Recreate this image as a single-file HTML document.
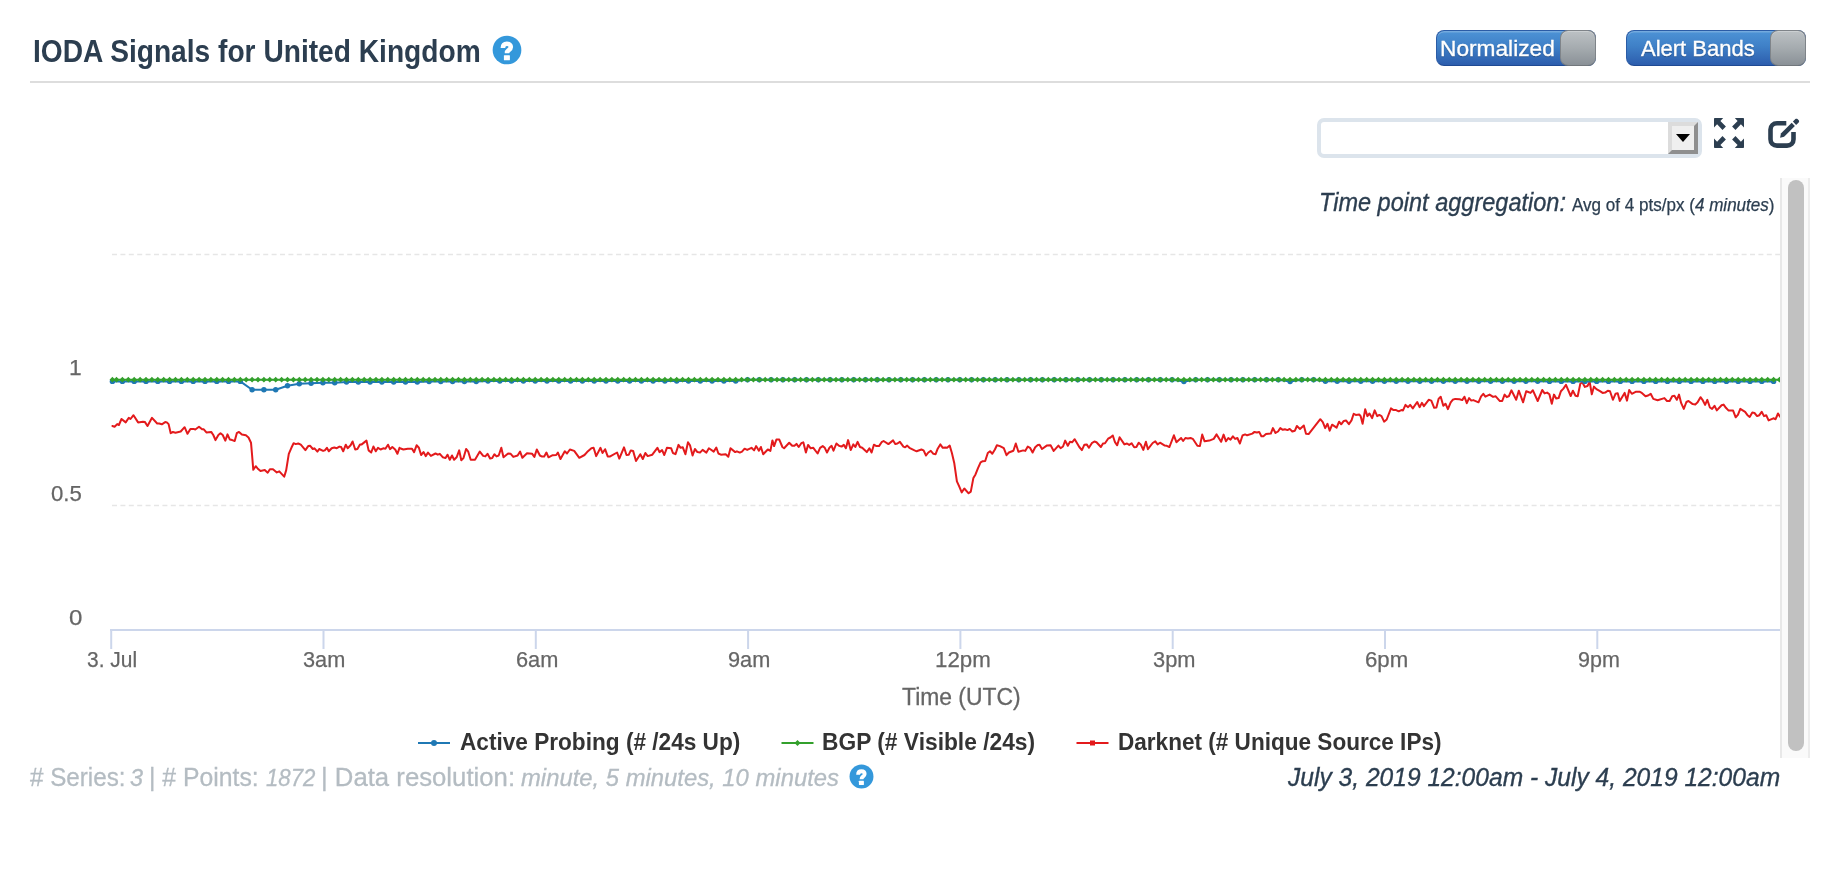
<!DOCTYPE html>
<html><head><meta charset="utf-8"><title>IODA Signals</title>
<style>
html,body{margin:0;padding:0;background:#fff;}
body{width:1840px;height:874px;position:relative;overflow:hidden;font-family:"Liberation Sans",sans-serif;color:#2c3e50;}
.abs{position:absolute;white-space:nowrap;line-height:1;}
.sx{display:inline-block;transform-origin:0 50%;}
#wrap{position:absolute;left:0;top:0;width:1840px;height:874px;will-change:transform;}
#hr{left:30px;top:81px;width:1780px;height:2px;background:#dddddd;}
.tog{height:36px;top:30px;border-radius:8px;box-sizing:border-box;border:1px solid #2b5ca6;border-bottom-color:#1f4a93;background:linear-gradient(#4d93d6,#3f80c7 45%,#2c5dad);box-shadow:inset 0 1.500px 0 rgba(255,255,255,.22);}
.knob{top:30px;width:36px;height:36px;box-sizing:border-box;border:1.500px solid #7f8489;border-bottom-color:#72777c;border-radius:8px;background:linear-gradient(#bcc1c4,#a5abaf 50%,#8a9197);box-shadow:inset 0 1px 0 rgba(255,255,255,.25);}
.wt{color:#fff;text-shadow:0 1px 1px rgba(0,0,0,.35);}
#sel{left:1317px;top:118px;width:385px;height:40px;box-sizing:border-box;border:4px solid #dce4ec;border-radius:7px;background:#fff;}
#selbtn{left:1668px;top:122px;width:30px;height:32px;box-sizing:border-box;border-style:solid;border-width:4px;border-color:#dcdcdc #8f8f8f #8f8f8f #dcdcdc;background:#efefef;}
#selbtn:after{content:"";position:absolute;left:4px;top:8px;border-left:7px solid transparent;border-right:7px solid transparent;border-top:8px solid #000;}
.ax{color:#666;}
.leg{font-weight:bold;color:#333;}
</style></head><body><div id="wrap">

<div class="abs" style="left:32.9px;top:35.9px;font-size:30.6px;font-weight:bold;color:#2c3e50;"><span class="sx" id="t_title" style="transform:scaleX(0.9199)">IODA Signals for United Kingdom</span></div>
<svg class="abs" style="left:492.100px;top:34.800px" width="30" height="30" viewBox="0 0 30 30"><circle cx="15" cy="15" r="14.350" fill="#3498db"/><path d="M10.900 12.900C10.900 10.100 12.600 8.700 14.900 8.700C17.200 8.700 18.800 10.100 18.800 12.100C18.800 13.900 17.500 14.600 16.400 15.400C15.400 16.100 15 16.600 15 18.300" fill="none" stroke="#fff" stroke-width="4.600" stroke-linecap="butt" stroke-linejoin="round"/><rect x="11.900" y="20.200" width="6" height="5" rx="0.500" fill="#fff"/></svg>
<div id="hr" class="abs"></div>

<div class="abs tog" style="left:1436px;width:160px"></div><div class="abs knob" style="left:1560px"></div>
<div class="abs tog" style="left:1626px;width:180px"></div><div class="abs knob" style="left:1770px"></div>
<div class="abs" style="left:1440.0px;top:37.8px;font-size:22.4px;color:#fff;text-shadow:0 1px 1px rgba(0,0,0,.35);-webkit-text-stroke:0.35px #fff;"><span class="sx" id="t_norm" style="transform:scaleX(1.0136)">Normalized</span></div>
<div class="abs" style="left:1641.4px;top:37.8px;font-size:22.4px;color:#fff;text-shadow:0 1px 1px rgba(0,0,0,.35);-webkit-text-stroke:0.35px #fff;"><span class="sx" id="t_alert" style="transform:scaleX(0.9826)">Alert Bands</span></div>

<div id="sel" class="abs"></div>
<div id="selbtn" class="abs"></div>

<svg class="abs" style="left:1714px;top:118px" width="30" height="30" viewBox="0 0 30 30" fill="#2c3e50">
<path d="M0.800 0H9.200L6.400 3L11.900 8.600L8.500 11.900L3.100 6.200L0 9.400V0.800Q0 0 0.800 0Z"/>
<g transform="translate(30 0) scale(-1 1)"><path d="M0.800 0H9.200L6.400 3L11.900 8.600L8.500 11.900L3.100 6.200L0 9.400V0.800Q0 0 0.800 0Z"/></g>
<g transform="translate(0 30) scale(1 -1)"><path d="M0.800 0H9.200L6.400 3L11.900 8.600L8.500 11.900L3.100 6.200L0 9.400V0.800Q0 0 0.800 0Z"/></g>
<g transform="translate(30 30) scale(-1 -1)"><path d="M0.800 0H9.200L6.400 3L11.900 8.600L8.500 11.900L3.100 6.200L0 9.400V0.800Q0 0 0.800 0Z"/></g>
</svg>
<svg class="abs" style="left:1766px;top:116px" width="36" height="34" viewBox="0 0 36 34">
<path d="M20.300 7.300H11C7.200 7.300 4.500 10 4.500 13.500V23.200C4.500 27 7.200 29.600 11 29.600H21C24.800 29.600 27.500 27 27.500 23.200V16" fill="none" stroke="#2c3e50" stroke-width="4.600" stroke-linecap="butt"/>
<path d="M14.100 21.700L14.900 17.600L25.700 6.800L28.900 10L18.100 20.800Z" fill="#2c3e50"/>
<path d="M26.900 5.600L29.400 3.100C30 2.500 30.900 2.500 31.500 3.100L32.700 4.300C33.300 4.900 33.300 5.800 32.700 6.400L30.100 8.900Z" fill="#2c3e50"/>
</svg>

<div class="abs" style="left:1319.2px;top:189.7px;font-size:25.6px;color:#2c3e50;-webkit-text-stroke:0.35px;"><span class="sx" id="t_agg" style="transform:scaleX(0.9192)"><i>Time point aggregation:</i></span></div>
<div class="abs" style="left:1571.7px;top:196.5px;font-size:17.5px;color:#2c3e50;-webkit-text-stroke:0.25px;"><span class="sx" id="t_agg2" style="transform:scaleX(0.9744)">Avg of 4 pts/px (<i>4 minutes</i>)</span></div>

<div class="abs" style="left:1780px;top:178px;width:30px;height:580px;box-sizing:border-box;background:#fafafa;border-left:2px solid #e8e8e8;border-right:2px solid #ececec;"></div>
<div class="abs" style="left:1788px;top:180px;width:16px;height:571px;border-radius:8px;background:#c1c1c1;"></div>

<svg class="abs" style="left:0;top:0" width="1780" height="874" viewBox="0 0 1780 874">
<g stroke="#e6e6e6" stroke-width="1.500" stroke-dasharray="5 3.400" fill="none">
<path d="M112 254.600H1780M112 505.600H1780M112 380H1780"/>
</g>
<path d="M110 630H1780" stroke="#ccd6eb" stroke-width="2" fill="none"/>
<path d="M111.2 630V649M323.5 630V649M535.8 630V649M748.1 630V649M960.4 630V649M1172.7 630V649M1385.0 630V649M1597.3 630V649" stroke="#ccd6eb" stroke-width="2" fill="none"/>
<path d="M112.4 426.0 L114.6 426.7 L117.2 424.1 L118.9 425.0 L121.5 419.0 L125.7 422.4 L128.8 417.8 L130.5 419.0 L133.5 415.2 L138.1 422.4 L142.9 421.7 L145.0 422.1 L147.5 426.0 L152.0 417.8 L157.2 423.5 L159.2 423.5 L161.8 424.3 L165.2 422.1 L166.9 422.4 L168.6 424.1 L170.7 433.2 L172.9 432.0 L175.5 432.7 L180.7 431.5 L184.6 427.2 L187.5 433.8 L190.4 428.9 L193.5 428.9 L195.3 429.5 L199.0 426.7 L202.1 429.3 L203.8 429.3 L206.4 432.4 L211.2 431.9 L213.3 435.0 L215.5 440.1 L218.4 435.0 L220.5 433.2 L222.7 435.0 L225.3 440.6 L227.5 434.4 L229.9 439.6 L232.2 440.1 L234.7 441.0 L236.8 433.2 L239.0 431.9 L241.9 434.6 L245.9 435.3 L248.5 437.5 L251.0 442.7 L251.9 453.0 L253.3 469.8 L255.7 466.2 L257.6 468.4 L260.5 471.0 L264.8 470.1 L267.7 472.7 L269.9 469.3 L273.0 469.3 L276.8 472.4 L279.3 471.3 L284.2 476.7 L286.2 470.1 L288.8 453.8 L291.4 447.8 L293.6 443.2 L295.7 444.1 L298.2 443.5 L300.8 444.7 L305.4 450.1 L308.2 446.1 L310.2 445.8 L312.8 449.0 L314.5 448.3 L317.4 451.6 L319.2 449.0 L323.1 450.9 L324.8 450.4 L326.9 447.8 L328.8 451.3 L331.7 448.2 L334.3 447.5 L336.8 448.2 L339.4 446.6 L341.1 447.0 L343.2 451.3 L345.8 444.7 L347.7 448.2 L350.6 445.3 L352.6 441.5 L355.2 449.5 L357.4 449.0 L360.0 444.4 L361.7 444.4 L366.5 440.6 L368.6 450.4 L371.2 452.5 L373.4 446.5 L375.8 451.3 L378.0 447.8 L380.6 449.5 L383.2 448.3 L385.4 448.7 L388.0 444.7 L390.0 449.2 L392.3 447.0 L395.2 449.5 L397.4 453.8 L399.5 447.8 L400.0 448.2 L403.4 449.5 L407.7 448.7 L412.0 448.7 L414.1 452.1 L416.6 445.3 L418.9 447.8 L421.1 455.0 L423.5 452.1 L425.7 456.1 L428.0 452.6 L430.9 455.9 L435.5 453.5 L437.8 454.7 L439.8 453.8 L442.9 457.3 L445.5 458.1 L447.5 454.7 L449.8 459.8 L452.0 455.5 L454.1 459.8 L456.6 457.3 L459.2 450.4 L461.3 460.2 L463.5 458.1 L466.1 449.0 L468.1 451.3 L470.7 459.8 L475.0 459.8 L479.8 451.6 L483.2 455.9 L485.3 456.4 L487.5 453.8 L490.1 458.6 L492.2 458.1 L494.4 454.3 L496.5 456.4 L498.7 455.5 L501.3 447.8 L503.5 457.3 L508.1 453.5 L510.7 453.8 L513.3 456.9 L517.6 455.5 L520.1 451.6 L522.4 457.8 L527.0 453.3 L532.2 453.8 L534.4 456.9 L536.8 449.5 L539.9 455.5 L541.6 456.4 L544.2 456.4 L546.4 452.5 L548.5 457.3 L552.7 455.2 L556.2 455.0 L557.9 452.6 L560.5 459.0 L564.8 451.3 L567.0 453.5 L569.9 449.5 L574.2 450.9 L579.3 457.8 L584.5 455.0 L587.1 452.1 L591.4 448.2 L593.6 447.8 L596.2 456.1 L600.5 447.8 L602.5 453.0 L605.1 449.2 L607.7 456.4 L610.2 456.4 L617.1 452.5 L619.3 458.6 L624.0 447.3 L626.5 455.0 L628.8 454.7 L630.8 450.4 L633.1 450.9 L636.0 461.0 L640.3 454.2 L642.8 459.0 L645.4 453.0 L647.7 456.1 L652.3 454.7 L657.4 447.8 L659.5 452.1 L662.1 450.1 L664.3 455.0 L666.9 447.8 L671.2 448.3 L672.9 453.0 L675.5 454.2 L678.5 444.9 L680.6 447.8 L682.8 447.3 L685.4 454.2 L688.0 442.3 L690.0 445.3 L692.6 455.5 L694.9 449.0 L697.4 452.1 L700.0 452.6 L702.6 449.9 L706.4 452.6 L708.9 448.3 L713.7 451.6 L716.3 447.5 L718.4 453.5 L720.9 454.7 L725.7 454.3 L728.3 456.8 L730.5 448.3 L735.2 452.1 L736.9 451.3 L739.8 452.6 L742.0 451.6 L744.6 448.7 L747.2 449.9 L751.5 447.8 L754.1 450.4 L756.1 446.1 L758.9 450.7 L760.9 447.0 L763.2 454.2 L767.8 449.5 L770.4 450.9 L772.4 440.4 L774.1 446.1 L776.4 439.6 L779.3 439.6 L782.4 447.0 L784.1 448.2 L789.2 442.7 L792.2 445.8 L794.4 445.8 L796.5 443.9 L798.7 447.0 L801.3 443.2 L803.3 442.3 L805.9 452.5 L808.1 444.9 L810.7 448.3 L813.3 447.8 L817.6 453.5 L820.1 447.8 L822.7 446.1 L824.8 447.8 L827.0 452.5 L829.6 447.5 L831.6 445.8 L833.5 450.7 L836.4 443.5 L839.0 445.8 L841.6 446.6 L843.8 444.9 L845.9 448.2 L848.1 440.1 L850.7 450.1 L853.3 444.4 L855.3 447.0 L857.6 441.8 L860.0 447.0 L862.2 447.8 L866.8 452.1 L869.4 448.3 L871.6 452.5 L873.9 444.7 L876.4 446.1 L879.0 446.1 L881.6 442.2 L883.6 441.0 L888.4 444.1 L893.1 440.4 L895.3 444.1 L897.4 443.5 L899.9 441.8 L903.4 446.6 L905.1 447.3 L907.2 445.6 L909.4 447.8 L914.5 450.4 L916.6 451.3 L921.4 449.5 L923.6 450.4 L926.0 455.5 L928.3 452.5 L930.8 450.9 L933.4 453.8 L935.6 454.2 L937.7 448.7 L940.3 444.4 L942.8 447.8 L945.4 447.5 L947.1 447.8 L949.7 445.6 L951.9 453.0 L954.3 463.3 L956.9 481.3 L959.2 486.4 L961.7 492.4 L964.3 488.5 L968.6 493.3 L970.8 491.6 L973.4 477.9 L975.5 474.4 L978.0 468.1 L980.6 462.4 L982.8 461.2 L985.2 461.0 L987.8 453.0 L990.0 451.3 L992.3 453.8 L994.9 449.5 L996.9 445.3 L1000.0 446.1 L1003.8 448.2 L1006.5 455.2 L1008.9 452.5 L1013.4 450.7 L1015.8 443.5 L1018.4 451.8 L1023.2 450.4 L1025.2 450.9 L1027.8 446.6 L1030.0 447.8 L1032.6 452.5 L1035.2 447.3 L1037.8 444.9 L1039.5 444.7 L1042.0 449.0 L1046.7 445.6 L1050.6 445.3 L1053.7 450.9 L1058.4 445.6 L1060.6 448.2 L1063.0 446.5 L1065.2 440.6 L1067.8 445.8 L1070.0 441.8 L1072.1 442.3 L1074.7 439.2 L1079.3 447.0 L1081.9 450.1 L1084.4 444.7 L1086.7 444.4 L1088.9 447.8 L1091.8 443.2 L1094.4 441.5 L1096.5 442.2 L1100.9 447.0 L1103.0 443.5 L1105.0 443.2 L1108.1 438.7 L1110.4 437.5 L1112.8 435.5 L1115.0 442.2 L1117.2 445.3 L1119.6 437.2 L1124.4 444.4 L1127.0 443.5 L1129.2 444.9 L1131.6 443.2 L1134.2 447.3 L1136.4 447.0 L1138.7 442.7 L1140.7 444.4 L1143.3 449.9 L1145.9 441.8 L1147.9 449.2 L1152.7 443.0 L1155.3 441.3 L1157.6 444.4 L1160.0 442.7 L1164.8 445.6 L1166.8 445.8 L1169.4 447.0 L1173.9 435.3 L1176.4 442.2 L1181.1 438.0 L1183.1 441.0 L1185.4 438.0 L1187.9 438.4 L1190.5 437.9 L1193.1 439.2 L1197.4 445.8 L1199.9 446.1 L1202.2 434.6 L1204.6 441.3 L1209.4 440.6 L1213.7 438.9 L1216.6 434.4 L1221.1 441.8 L1223.6 434.6 L1226.0 441.3 L1228.3 438.0 L1230.5 439.6 L1232.9 436.3 L1235.1 438.9 L1237.4 438.0 L1239.9 443.5 L1242.5 435.5 L1245.1 434.4 L1247.1 435.3 L1252.3 433.6 L1254.5 431.9 L1256.9 432.4 L1259.2 431.9 L1261.4 436.3 L1263.4 436.3 L1266.0 434.1 L1270.8 433.6 L1272.9 428.1 L1275.5 432.9 L1278.0 431.5 L1280.3 428.1 L1282.8 429.8 L1284.9 429.3 L1287.5 430.1 L1289.7 428.9 L1292.3 431.5 L1294.9 430.7 L1296.9 426.0 L1300.0 428.9 L1303.8 425.5 L1306.0 433.8 L1308.6 434.1 L1320.3 419.2 L1322.8 422.1 L1325.2 428.1 L1327.5 423.8 L1329.7 430.7 L1332.1 424.7 L1336.6 427.7 L1339.1 421.7 L1341.2 424.3 L1343.8 420.9 L1346.0 420.4 L1348.9 424.1 L1351.5 420.4 L1353.7 413.8 L1355.8 414.9 L1359.2 414.4 L1360.6 416.1 L1362.6 423.8 L1365.2 409.2 L1367.4 416.1 L1369.5 413.5 L1372.1 418.1 L1374.7 410.4 L1377.2 416.1 L1379.3 414.9 L1381.5 416.1 L1384.1 421.7 L1386.7 419.5 L1391.0 408.4 L1393.5 410.1 L1396.1 410.1 L1398.7 411.3 L1401.3 410.1 L1403.0 410.4 L1405.5 404.9 L1408.1 407.2 L1410.2 404.9 L1412.8 408.4 L1417.2 402.0 L1419.6 407.2 L1421.9 402.9 L1423.9 406.1 L1428.7 399.8 L1431.3 400.6 L1434.2 407.8 L1436.4 407.5 L1438.7 398.6 L1440.7 396.7 L1443.3 405.8 L1445.5 403.7 L1447.9 409.2 L1450.7 402.3 L1452.7 399.8 L1455.3 398.9 L1459.6 399.3 L1462.2 400.1 L1464.4 396.7 L1466.8 403.2 L1469.1 398.1 L1471.3 400.6 L1473.3 400.1 L1478.5 402.3 L1481.1 396.3 L1483.3 393.8 L1485.4 396.7 L1489.6 394.6 L1493.1 396.9 L1495.7 396.3 L1499.9 401.1 L1502.2 401.0 L1504.6 394.6 L1506.8 397.2 L1509.0 396.0 L1511.4 390.3 L1516.2 399.8 L1518.8 390.7 L1523.1 402.3 L1526.2 391.2 L1528.3 392.0 L1530.5 392.9 L1532.9 390.3 L1537.7 401.0 L1542.3 390.0 L1544.6 393.4 L1547.1 392.6 L1549.4 394.3 L1551.8 403.7 L1554.0 394.6 L1556.2 398.6 L1558.6 398.1 L1560.9 391.2 L1563.4 388.6 L1566.0 384.8 L1570.7 396.0 L1572.9 390.7 L1575.5 395.8 L1577.7 396.3 L1580.3 383.8 L1582.3 382.3 L1584.9 386.9 L1587.5 386.0 L1589.7 381.8 L1591.8 394.3 L1594.0 386.6 L1596.4 389.1 L1600.0 391.2 L1602.6 392.9 L1605.2 392.6 L1607.8 390.7 L1610.0 391.2 L1612.9 399.8 L1615.5 393.8 L1617.7 393.2 L1619.8 401.0 L1624.6 392.9 L1627.0 400.6 L1629.2 390.0 L1631.8 393.8 L1636.1 391.7 L1639.5 391.7 L1641.3 392.6 L1645.5 396.3 L1648.1 395.5 L1650.7 393.8 L1653.3 398.9 L1657.6 400.3 L1664.4 398.1 L1667.0 401.0 L1669.6 401.1 L1672.2 396.3 L1674.4 395.8 L1676.8 399.8 L1679.0 394.6 L1681.2 403.2 L1683.8 408.9 L1686.4 402.0 L1688.5 401.0 L1692.7 404.1 L1695.3 404.4 L1697.6 402.3 L1700.5 397.2 L1702.5 399.8 L1705.1 404.9 L1707.3 399.8 L1709.9 407.5 L1712.1 408.9 L1714.5 405.8 L1716.8 410.4 L1721.6 405.3 L1723.6 404.6 L1725.9 407.8 L1728.4 410.4 L1733.1 410.6 L1735.7 417.3 L1737.9 414.9 L1740.3 408.9 L1745.1 411.8 L1747.3 414.9 L1749.7 416.9 L1752.3 412.6 L1754.5 413.0 L1757.1 416.1 L1759.3 415.2 L1761.7 411.8 L1764.0 416.1 L1766.2 415.2 L1768.6 420.4 L1773.4 418.3 L1775.6 419.2 L1778.0 413.5 L1779.9 416.6" stroke="#e31a1c" stroke-width="2" fill="none" stroke-linejoin="round" stroke-linecap="round"/>
<path d="M112.4 381.4 L122.4 381.4 L134.2 381.4 L146.0 381.4 L157.8 381.4 L169.6 381.4 L181.4 381.4 L193.2 381.4 L205.0 381.4 L216.8 381.4 L228.6 381.4 L240.3 381.4 L252.1 389.8 L263.9 389.8 L275.7 389.8 L287.5 385.7 L299.3 383.8 L311.1 383.2 L322.9 382.7 L334.7 382.7 L346.5 382.0 L358.3 382.0 L370.1 382.0 L381.9 382.0 L393.7 382.0 L405.5 382.0 L417.3 382.0 L429.1 381.6 L440.8 381.6 L452.6 381.6 L464.4 381.6 L476.2 381.6 L488.0 381.1 L499.8 381.1 L511.6 381.1 L523.4 381.1 L535.2 381.1 L547.0 381.1 L558.8 381.1 L570.6 381.1 L582.4 381.1 L594.2 381.1 L606.0 381.1 L617.8 381.1 L629.6 381.1 L641.4 381.1 L653.1 381.1 L664.9 381.1 L676.7 381.1 L688.5 381.1 L700.3 381.1 L712.1 381.1 L723.9 381.1 L735.7 381.1 L747.5 379.8 L759.3 379.8 L771.1 379.8 L782.9 379.8 L794.7 379.8 L806.5 379.8 L818.3 379.8 L830.1 379.8 L841.9 379.8 L853.7 379.8 L865.5 379.8 L877.2 379.8 L889.0 379.8 L900.8 379.8 L912.6 379.8 L924.4 379.8 L936.2 379.8 L948.0 379.8 L959.8 379.8 L971.6 379.8 L983.4 379.8 L995.2 379.8 L1007.0 379.8 L1018.8 379.8 L1030.6 379.8 L1042.4 379.8 L1054.2 379.8 L1066.0 379.8 L1077.8 379.8 L1089.5 379.8 L1101.3 379.8 L1113.1 379.8 L1124.9 379.8 L1136.7 379.8 L1148.5 379.8 L1160.3 379.8 L1172.1 379.8 L1183.9 381.6 L1195.7 379.8 L1207.5 379.8 L1219.3 379.8 L1231.1 379.8 L1242.9 379.8 L1254.7 379.8 L1266.5 379.8 L1278.3 379.8 L1290.1 381.6 L1301.8 379.8 L1313.6 379.8 L1325.4 381.3 L1337.2 381.3 L1349.0 381.3 L1360.8 381.3 L1372.6 381.3 L1384.4 381.3 L1396.2 381.3 L1408.0 381.3 L1419.8 381.3 L1431.6 381.3 L1443.4 381.3 L1455.2 381.3 L1467.0 381.3 L1478.8 381.3 L1490.6 381.3 L1502.4 381.3 L1514.1 381.3 L1525.9 381.3 L1537.7 381.3 L1549.5 381.4 L1561.3 381.4 L1573.1 381.4 L1584.9 381.4 L1596.7 381.4 L1608.5 381.4 L1620.3 381.4 L1632.1 381.4 L1643.9 381.4 L1655.7 381.4 L1667.5 381.4 L1679.3 381.4 L1691.1 381.4 L1702.9 381.4 L1714.7 381.4 L1726.4 381.4 L1738.2 381.4 L1750.0 381.4 L1761.8 381.4 L1773.6 381.4" stroke="#1f78b4" stroke-width="2" fill="none" stroke-linejoin="round"/>
<g fill="#1f78b4"><circle cx="112.4" cy="381.4" r="2.7"/><circle cx="122.4" cy="381.4" r="2.7"/><circle cx="134.2" cy="381.4" r="2.7"/><circle cx="146.0" cy="381.4" r="2.7"/><circle cx="157.8" cy="381.4" r="2.7"/><circle cx="169.6" cy="381.4" r="2.7"/><circle cx="181.4" cy="381.4" r="2.7"/><circle cx="193.2" cy="381.4" r="2.7"/><circle cx="205.0" cy="381.4" r="2.7"/><circle cx="216.8" cy="381.4" r="2.7"/><circle cx="228.6" cy="381.4" r="2.7"/><circle cx="240.3" cy="381.4" r="2.7"/><circle cx="252.1" cy="389.8" r="2.7"/><circle cx="263.9" cy="389.8" r="2.7"/><circle cx="275.7" cy="389.8" r="2.7"/><circle cx="287.5" cy="385.7" r="2.7"/><circle cx="299.3" cy="383.8" r="2.7"/><circle cx="311.1" cy="383.2" r="2.7"/><circle cx="322.9" cy="382.7" r="2.7"/><circle cx="334.7" cy="382.7" r="2.7"/><circle cx="346.5" cy="382.0" r="2.7"/><circle cx="358.3" cy="382.0" r="2.7"/><circle cx="370.1" cy="382.0" r="2.7"/><circle cx="381.9" cy="382.0" r="2.7"/><circle cx="393.7" cy="382.0" r="2.7"/><circle cx="405.5" cy="382.0" r="2.7"/><circle cx="417.3" cy="382.0" r="2.7"/><circle cx="429.1" cy="381.6" r="2.7"/><circle cx="440.8" cy="381.6" r="2.7"/><circle cx="452.6" cy="381.6" r="2.7"/><circle cx="464.4" cy="381.6" r="2.7"/><circle cx="476.2" cy="381.6" r="2.7"/><circle cx="488.0" cy="381.1" r="2.7"/><circle cx="499.8" cy="381.1" r="2.7"/><circle cx="511.6" cy="381.1" r="2.7"/><circle cx="523.4" cy="381.1" r="2.7"/><circle cx="535.2" cy="381.1" r="2.7"/><circle cx="547.0" cy="381.1" r="2.7"/><circle cx="558.8" cy="381.1" r="2.7"/><circle cx="570.6" cy="381.1" r="2.7"/><circle cx="582.4" cy="381.1" r="2.7"/><circle cx="594.2" cy="381.1" r="2.7"/><circle cx="606.0" cy="381.1" r="2.7"/><circle cx="617.8" cy="381.1" r="2.7"/><circle cx="629.6" cy="381.1" r="2.7"/><circle cx="641.4" cy="381.1" r="2.7"/><circle cx="653.1" cy="381.1" r="2.7"/><circle cx="664.9" cy="381.1" r="2.7"/><circle cx="676.7" cy="381.1" r="2.7"/><circle cx="688.5" cy="381.1" r="2.7"/><circle cx="700.3" cy="381.1" r="2.7"/><circle cx="712.1" cy="381.1" r="2.7"/><circle cx="723.9" cy="381.1" r="2.7"/><circle cx="735.7" cy="381.1" r="2.7"/><circle cx="747.5" cy="379.8" r="2.7"/><circle cx="759.3" cy="379.8" r="2.7"/><circle cx="771.1" cy="379.8" r="2.7"/><circle cx="782.9" cy="379.8" r="2.7"/><circle cx="794.7" cy="379.8" r="2.7"/><circle cx="806.5" cy="379.8" r="2.7"/><circle cx="818.3" cy="379.8" r="2.7"/><circle cx="830.1" cy="379.8" r="2.7"/><circle cx="841.9" cy="379.8" r="2.7"/><circle cx="853.7" cy="379.8" r="2.7"/><circle cx="865.5" cy="379.8" r="2.7"/><circle cx="877.2" cy="379.8" r="2.7"/><circle cx="889.0" cy="379.8" r="2.7"/><circle cx="900.8" cy="379.8" r="2.7"/><circle cx="912.6" cy="379.8" r="2.7"/><circle cx="924.4" cy="379.8" r="2.7"/><circle cx="936.2" cy="379.8" r="2.7"/><circle cx="948.0" cy="379.8" r="2.7"/><circle cx="959.8" cy="379.8" r="2.7"/><circle cx="971.6" cy="379.8" r="2.7"/><circle cx="983.4" cy="379.8" r="2.7"/><circle cx="995.2" cy="379.8" r="2.7"/><circle cx="1007.0" cy="379.8" r="2.7"/><circle cx="1018.8" cy="379.8" r="2.7"/><circle cx="1030.6" cy="379.8" r="2.7"/><circle cx="1042.4" cy="379.8" r="2.7"/><circle cx="1054.2" cy="379.8" r="2.7"/><circle cx="1066.0" cy="379.8" r="2.7"/><circle cx="1077.8" cy="379.8" r="2.7"/><circle cx="1089.5" cy="379.8" r="2.7"/><circle cx="1101.3" cy="379.8" r="2.7"/><circle cx="1113.1" cy="379.8" r="2.7"/><circle cx="1124.9" cy="379.8" r="2.7"/><circle cx="1136.7" cy="379.8" r="2.7"/><circle cx="1148.5" cy="379.8" r="2.7"/><circle cx="1160.3" cy="379.8" r="2.7"/><circle cx="1172.1" cy="379.8" r="2.7"/><circle cx="1183.9" cy="381.6" r="2.7"/><circle cx="1195.7" cy="379.8" r="2.7"/><circle cx="1207.5" cy="379.8" r="2.7"/><circle cx="1219.3" cy="379.8" r="2.7"/><circle cx="1231.1" cy="379.8" r="2.7"/><circle cx="1242.9" cy="379.8" r="2.7"/><circle cx="1254.7" cy="379.8" r="2.7"/><circle cx="1266.5" cy="379.8" r="2.7"/><circle cx="1278.3" cy="379.8" r="2.7"/><circle cx="1290.1" cy="381.6" r="2.7"/><circle cx="1301.8" cy="379.8" r="2.7"/><circle cx="1313.6" cy="379.8" r="2.7"/><circle cx="1325.4" cy="381.3" r="2.7"/><circle cx="1337.2" cy="381.3" r="2.7"/><circle cx="1349.0" cy="381.3" r="2.7"/><circle cx="1360.8" cy="381.3" r="2.7"/><circle cx="1372.6" cy="381.3" r="2.7"/><circle cx="1384.4" cy="381.3" r="2.7"/><circle cx="1396.2" cy="381.3" r="2.7"/><circle cx="1408.0" cy="381.3" r="2.7"/><circle cx="1419.8" cy="381.3" r="2.7"/><circle cx="1431.6" cy="381.3" r="2.7"/><circle cx="1443.4" cy="381.3" r="2.7"/><circle cx="1455.2" cy="381.3" r="2.7"/><circle cx="1467.0" cy="381.3" r="2.7"/><circle cx="1478.8" cy="381.3" r="2.7"/><circle cx="1490.6" cy="381.3" r="2.7"/><circle cx="1502.4" cy="381.3" r="2.7"/><circle cx="1514.1" cy="381.3" r="2.7"/><circle cx="1525.9" cy="381.3" r="2.7"/><circle cx="1537.7" cy="381.3" r="2.7"/><circle cx="1549.5" cy="381.4" r="2.7"/><circle cx="1561.3" cy="381.4" r="2.7"/><circle cx="1573.1" cy="381.4" r="2.7"/><circle cx="1584.9" cy="381.4" r="2.7"/><circle cx="1596.7" cy="381.4" r="2.7"/><circle cx="1608.5" cy="381.4" r="2.7"/><circle cx="1620.3" cy="381.4" r="2.7"/><circle cx="1632.1" cy="381.4" r="2.7"/><circle cx="1643.9" cy="381.4" r="2.7"/><circle cx="1655.7" cy="381.4" r="2.7"/><circle cx="1667.5" cy="381.4" r="2.7"/><circle cx="1679.3" cy="381.4" r="2.7"/><circle cx="1691.1" cy="381.4" r="2.7"/><circle cx="1702.9" cy="381.4" r="2.7"/><circle cx="1714.7" cy="381.4" r="2.7"/><circle cx="1726.4" cy="381.4" r="2.7"/><circle cx="1738.2" cy="381.4" r="2.7"/><circle cx="1750.0" cy="381.4" r="2.7"/><circle cx="1761.8" cy="381.4" r="2.7"/><circle cx="1773.6" cy="381.4" r="2.7"/></g>
<path d="M112.400 379.7H1780" stroke="#33a02c" stroke-width="2.100" fill="none"/>
<path d="M112.4 376.85l2.85 2.85l-2.85 2.85l-2.85 -2.85zM116.5 376.85l2.85 2.85l-2.85 2.85l-2.85 -2.85zM122.4 376.85l2.85 2.85l-2.85 2.85l-2.85 -2.85zM128.3 376.85l2.85 2.85l-2.85 2.85l-2.85 -2.85zM134.2 376.85l2.85 2.85l-2.85 2.85l-2.85 -2.85zM140.1 376.85l2.85 2.85l-2.85 2.85l-2.85 -2.85zM146.0 376.85l2.85 2.85l-2.85 2.85l-2.85 -2.85zM151.9 376.85l2.85 2.85l-2.85 2.85l-2.85 -2.85zM157.8 376.85l2.85 2.85l-2.85 2.85l-2.85 -2.85zM163.7 376.85l2.85 2.85l-2.85 2.85l-2.85 -2.85zM169.6 376.85l2.85 2.85l-2.85 2.85l-2.85 -2.85zM175.5 376.85l2.85 2.85l-2.85 2.85l-2.85 -2.85zM181.4 376.85l2.85 2.85l-2.85 2.85l-2.85 -2.85zM187.3 376.85l2.85 2.85l-2.85 2.85l-2.85 -2.85zM193.2 376.85l2.85 2.85l-2.85 2.85l-2.85 -2.85zM199.1 376.85l2.85 2.85l-2.85 2.85l-2.85 -2.85zM205.0 376.85l2.85 2.85l-2.85 2.85l-2.85 -2.85zM210.9 376.85l2.85 2.85l-2.85 2.85l-2.85 -2.85zM216.8 376.85l2.85 2.85l-2.85 2.85l-2.85 -2.85zM222.6 376.85l2.85 2.85l-2.85 2.85l-2.85 -2.85zM228.5 376.85l2.85 2.85l-2.85 2.85l-2.85 -2.85zM234.4 376.85l2.85 2.85l-2.85 2.85l-2.85 -2.85zM240.3 376.85l2.85 2.85l-2.85 2.85l-2.85 -2.85zM246.2 376.85l2.85 2.85l-2.85 2.85l-2.85 -2.85zM252.1 376.85l2.85 2.85l-2.85 2.85l-2.85 -2.85zM258.0 376.85l2.85 2.85l-2.85 2.85l-2.85 -2.85zM263.9 376.85l2.85 2.85l-2.85 2.85l-2.85 -2.85zM269.8 376.85l2.85 2.85l-2.85 2.85l-2.85 -2.85zM275.7 376.85l2.85 2.85l-2.85 2.85l-2.85 -2.85zM281.6 376.85l2.85 2.85l-2.85 2.85l-2.85 -2.85zM287.5 376.85l2.85 2.85l-2.85 2.85l-2.85 -2.85zM293.4 376.85l2.85 2.85l-2.85 2.85l-2.85 -2.85zM299.3 376.85l2.85 2.85l-2.85 2.85l-2.85 -2.85zM305.2 376.85l2.85 2.85l-2.85 2.85l-2.85 -2.85zM311.1 376.85l2.85 2.85l-2.85 2.85l-2.85 -2.85zM317.0 376.85l2.85 2.85l-2.85 2.85l-2.85 -2.85zM322.9 376.85l2.85 2.85l-2.85 2.85l-2.85 -2.85zM328.8 376.85l2.85 2.85l-2.85 2.85l-2.85 -2.85zM334.7 376.85l2.85 2.85l-2.85 2.85l-2.85 -2.85zM340.6 376.85l2.85 2.85l-2.85 2.85l-2.85 -2.85zM346.5 376.85l2.85 2.85l-2.85 2.85l-2.85 -2.85zM352.4 376.85l2.85 2.85l-2.85 2.85l-2.85 -2.85zM358.3 376.85l2.85 2.85l-2.85 2.85l-2.85 -2.85zM364.2 376.85l2.85 2.85l-2.85 2.85l-2.85 -2.85zM370.1 376.85l2.85 2.85l-2.85 2.85l-2.85 -2.85zM376.0 376.85l2.85 2.85l-2.85 2.85l-2.85 -2.85zM381.9 376.85l2.85 2.85l-2.85 2.85l-2.85 -2.85zM387.8 376.85l2.85 2.85l-2.85 2.85l-2.85 -2.85zM393.7 376.85l2.85 2.85l-2.85 2.85l-2.85 -2.85zM399.6 376.85l2.85 2.85l-2.85 2.85l-2.85 -2.85zM405.5 376.85l2.85 2.85l-2.85 2.85l-2.85 -2.85zM411.4 376.85l2.85 2.85l-2.85 2.85l-2.85 -2.85zM417.3 376.85l2.85 2.85l-2.85 2.85l-2.85 -2.85zM423.2 376.85l2.85 2.85l-2.85 2.85l-2.85 -2.85zM429.1 376.85l2.85 2.85l-2.85 2.85l-2.85 -2.85zM435.0 376.85l2.85 2.85l-2.85 2.85l-2.85 -2.85zM440.8 376.85l2.85 2.85l-2.85 2.85l-2.85 -2.85zM446.7 376.85l2.85 2.85l-2.85 2.85l-2.85 -2.85zM452.6 376.85l2.85 2.85l-2.85 2.85l-2.85 -2.85zM458.5 376.85l2.85 2.85l-2.85 2.85l-2.85 -2.85zM464.4 376.85l2.85 2.85l-2.85 2.85l-2.85 -2.85zM470.3 376.85l2.85 2.85l-2.85 2.85l-2.85 -2.85zM476.2 376.85l2.85 2.85l-2.85 2.85l-2.85 -2.85zM482.1 376.85l2.85 2.85l-2.85 2.85l-2.85 -2.85zM488.0 376.85l2.85 2.85l-2.85 2.85l-2.85 -2.85zM493.9 376.85l2.85 2.85l-2.85 2.85l-2.85 -2.85zM499.8 376.85l2.85 2.85l-2.85 2.85l-2.85 -2.85zM505.7 376.85l2.85 2.85l-2.85 2.85l-2.85 -2.85zM511.6 376.85l2.85 2.85l-2.85 2.85l-2.85 -2.85zM517.5 376.85l2.85 2.85l-2.85 2.85l-2.85 -2.85zM523.4 376.85l2.85 2.85l-2.85 2.85l-2.85 -2.85zM529.3 376.85l2.85 2.85l-2.85 2.85l-2.85 -2.85zM535.2 376.85l2.85 2.85l-2.85 2.85l-2.85 -2.85zM541.1 376.85l2.85 2.85l-2.85 2.85l-2.85 -2.85zM547.0 376.85l2.85 2.85l-2.85 2.85l-2.85 -2.85zM552.9 376.85l2.85 2.85l-2.85 2.85l-2.85 -2.85zM558.8 376.85l2.85 2.85l-2.85 2.85l-2.85 -2.85zM564.7 376.85l2.85 2.85l-2.85 2.85l-2.85 -2.85zM570.6 376.85l2.85 2.85l-2.85 2.85l-2.85 -2.85zM576.5 376.85l2.85 2.85l-2.85 2.85l-2.85 -2.85zM582.4 376.85l2.85 2.85l-2.85 2.85l-2.85 -2.85zM588.3 376.85l2.85 2.85l-2.85 2.85l-2.85 -2.85zM594.2 376.85l2.85 2.85l-2.85 2.85l-2.85 -2.85zM600.1 376.85l2.85 2.85l-2.85 2.85l-2.85 -2.85zM606.0 376.85l2.85 2.85l-2.85 2.85l-2.85 -2.85zM611.9 376.85l2.85 2.85l-2.85 2.85l-2.85 -2.85zM617.8 376.85l2.85 2.85l-2.85 2.85l-2.85 -2.85zM623.7 376.85l2.85 2.85l-2.85 2.85l-2.85 -2.85zM629.6 376.85l2.85 2.85l-2.85 2.85l-2.85 -2.85zM635.5 376.85l2.85 2.85l-2.85 2.85l-2.85 -2.85zM641.4 376.85l2.85 2.85l-2.85 2.85l-2.85 -2.85zM647.3 376.85l2.85 2.85l-2.85 2.85l-2.85 -2.85zM653.1 376.85l2.85 2.85l-2.85 2.85l-2.85 -2.85zM659.0 376.85l2.85 2.85l-2.85 2.85l-2.85 -2.85zM664.9 376.85l2.85 2.85l-2.85 2.85l-2.85 -2.85zM670.8 376.85l2.85 2.85l-2.85 2.85l-2.85 -2.85zM676.7 376.85l2.85 2.85l-2.85 2.85l-2.85 -2.85zM682.6 376.85l2.85 2.85l-2.85 2.85l-2.85 -2.85zM688.5 376.85l2.85 2.85l-2.85 2.85l-2.85 -2.85zM694.4 376.85l2.85 2.85l-2.85 2.85l-2.85 -2.85zM700.3 376.85l2.85 2.85l-2.85 2.85l-2.85 -2.85zM706.2 376.85l2.85 2.85l-2.85 2.85l-2.85 -2.85zM712.1 376.85l2.85 2.85l-2.85 2.85l-2.85 -2.85zM718.0 376.85l2.85 2.85l-2.85 2.85l-2.85 -2.85zM723.9 376.85l2.85 2.85l-2.85 2.85l-2.85 -2.85zM729.8 376.85l2.85 2.85l-2.85 2.85l-2.85 -2.85zM735.7 376.85l2.85 2.85l-2.85 2.85l-2.85 -2.85zM741.6 376.85l2.85 2.85l-2.85 2.85l-2.85 -2.85zM747.5 376.85l2.85 2.85l-2.85 2.85l-2.85 -2.85zM753.4 376.85l2.85 2.85l-2.85 2.85l-2.85 -2.85zM759.3 376.85l2.85 2.85l-2.85 2.85l-2.85 -2.85zM765.2 376.85l2.85 2.85l-2.85 2.85l-2.85 -2.85zM771.1 376.85l2.85 2.85l-2.85 2.85l-2.85 -2.85zM777.0 376.85l2.85 2.85l-2.85 2.85l-2.85 -2.85zM782.9 376.85l2.85 2.85l-2.85 2.85l-2.85 -2.85zM788.8 376.85l2.85 2.85l-2.85 2.85l-2.85 -2.85zM794.7 376.85l2.85 2.85l-2.85 2.85l-2.85 -2.85zM800.6 376.85l2.85 2.85l-2.85 2.85l-2.85 -2.85zM806.5 376.85l2.85 2.85l-2.85 2.85l-2.85 -2.85zM812.4 376.85l2.85 2.85l-2.85 2.85l-2.85 -2.85zM818.3 376.85l2.85 2.85l-2.85 2.85l-2.85 -2.85zM824.2 376.85l2.85 2.85l-2.85 2.85l-2.85 -2.85zM830.1 376.85l2.85 2.85l-2.85 2.85l-2.85 -2.85zM836.0 376.85l2.85 2.85l-2.85 2.85l-2.85 -2.85zM841.9 376.85l2.85 2.85l-2.85 2.85l-2.85 -2.85zM847.8 376.85l2.85 2.85l-2.85 2.85l-2.85 -2.85zM853.7 376.85l2.85 2.85l-2.85 2.85l-2.85 -2.85zM859.6 376.85l2.85 2.85l-2.85 2.85l-2.85 -2.85zM865.4 376.85l2.85 2.85l-2.85 2.85l-2.85 -2.85zM871.3 376.85l2.85 2.85l-2.85 2.85l-2.85 -2.85zM877.2 376.85l2.85 2.85l-2.85 2.85l-2.85 -2.85zM883.1 376.85l2.85 2.85l-2.85 2.85l-2.85 -2.85zM889.0 376.85l2.85 2.85l-2.85 2.85l-2.85 -2.85zM894.9 376.85l2.85 2.85l-2.85 2.85l-2.85 -2.85zM900.8 376.85l2.85 2.85l-2.85 2.85l-2.85 -2.85zM906.7 376.85l2.85 2.85l-2.85 2.85l-2.85 -2.85zM912.6 376.85l2.85 2.85l-2.85 2.85l-2.85 -2.85zM918.5 376.85l2.85 2.85l-2.85 2.85l-2.85 -2.85zM924.4 376.85l2.85 2.85l-2.85 2.85l-2.85 -2.85zM930.3 376.85l2.85 2.85l-2.85 2.85l-2.85 -2.85zM936.2 376.85l2.85 2.85l-2.85 2.85l-2.85 -2.85zM942.1 376.85l2.85 2.85l-2.85 2.85l-2.85 -2.85zM948.0 376.85l2.85 2.85l-2.85 2.85l-2.85 -2.85zM953.9 376.85l2.85 2.85l-2.85 2.85l-2.85 -2.85zM959.8 376.85l2.85 2.85l-2.85 2.85l-2.85 -2.85zM965.7 376.85l2.85 2.85l-2.85 2.85l-2.85 -2.85zM971.6 376.85l2.85 2.85l-2.85 2.85l-2.85 -2.85zM977.5 376.85l2.85 2.85l-2.85 2.85l-2.85 -2.85zM983.4 376.85l2.85 2.85l-2.85 2.85l-2.85 -2.85zM989.3 376.85l2.85 2.85l-2.85 2.85l-2.85 -2.85zM995.2 376.85l2.85 2.85l-2.85 2.85l-2.85 -2.85zM1001.1 376.85l2.85 2.85l-2.85 2.85l-2.85 -2.85zM1007.0 376.85l2.85 2.85l-2.85 2.85l-2.85 -2.85zM1012.9 376.85l2.85 2.85l-2.85 2.85l-2.85 -2.85zM1018.8 376.85l2.85 2.85l-2.85 2.85l-2.85 -2.85zM1024.7 376.85l2.85 2.85l-2.85 2.85l-2.85 -2.85zM1030.6 376.85l2.85 2.85l-2.85 2.85l-2.85 -2.85zM1036.5 376.85l2.85 2.85l-2.85 2.85l-2.85 -2.85zM1042.4 376.85l2.85 2.85l-2.85 2.85l-2.85 -2.85zM1048.3 376.85l2.85 2.85l-2.85 2.85l-2.85 -2.85zM1054.2 376.85l2.85 2.85l-2.85 2.85l-2.85 -2.85zM1060.1 376.85l2.85 2.85l-2.85 2.85l-2.85 -2.85zM1066.0 376.85l2.85 2.85l-2.85 2.85l-2.85 -2.85zM1071.9 376.85l2.85 2.85l-2.85 2.85l-2.85 -2.85zM1077.7 376.85l2.85 2.85l-2.85 2.85l-2.85 -2.85zM1083.6 376.85l2.85 2.85l-2.85 2.85l-2.85 -2.85zM1089.5 376.85l2.85 2.85l-2.85 2.85l-2.85 -2.85zM1095.4 376.85l2.85 2.85l-2.85 2.85l-2.85 -2.85zM1101.3 376.85l2.85 2.85l-2.85 2.85l-2.85 -2.85zM1107.2 376.85l2.85 2.85l-2.85 2.85l-2.85 -2.85zM1113.1 376.85l2.85 2.85l-2.85 2.85l-2.85 -2.85zM1119.0 376.85l2.85 2.85l-2.85 2.85l-2.85 -2.85zM1124.9 376.85l2.85 2.85l-2.85 2.85l-2.85 -2.85zM1130.8 376.85l2.85 2.85l-2.85 2.85l-2.85 -2.85zM1136.7 376.85l2.85 2.85l-2.85 2.85l-2.85 -2.85zM1142.6 376.85l2.85 2.85l-2.85 2.85l-2.85 -2.85zM1148.5 376.85l2.85 2.85l-2.85 2.85l-2.85 -2.85zM1154.4 376.85l2.85 2.85l-2.85 2.85l-2.85 -2.85zM1160.3 376.85l2.85 2.85l-2.85 2.85l-2.85 -2.85zM1166.2 376.85l2.85 2.85l-2.85 2.85l-2.85 -2.85zM1172.1 376.85l2.85 2.85l-2.85 2.85l-2.85 -2.85zM1178.0 376.85l2.85 2.85l-2.85 2.85l-2.85 -2.85zM1183.9 376.85l2.85 2.85l-2.85 2.85l-2.85 -2.85zM1189.8 376.85l2.85 2.85l-2.85 2.85l-2.85 -2.85zM1195.7 376.85l2.85 2.85l-2.85 2.85l-2.85 -2.85zM1201.6 376.85l2.85 2.85l-2.85 2.85l-2.85 -2.85zM1207.5 376.85l2.85 2.85l-2.85 2.85l-2.85 -2.85zM1213.4 376.85l2.85 2.85l-2.85 2.85l-2.85 -2.85zM1219.3 376.85l2.85 2.85l-2.85 2.85l-2.85 -2.85zM1225.2 376.85l2.85 2.85l-2.85 2.85l-2.85 -2.85zM1231.1 376.85l2.85 2.85l-2.85 2.85l-2.85 -2.85zM1237.0 376.85l2.85 2.85l-2.85 2.85l-2.85 -2.85zM1242.9 376.85l2.85 2.85l-2.85 2.85l-2.85 -2.85zM1248.8 376.85l2.85 2.85l-2.85 2.85l-2.85 -2.85zM1254.7 376.85l2.85 2.85l-2.85 2.85l-2.85 -2.85zM1260.6 376.85l2.85 2.85l-2.85 2.85l-2.85 -2.85zM1266.5 376.85l2.85 2.85l-2.85 2.85l-2.85 -2.85zM1272.4 376.85l2.85 2.85l-2.85 2.85l-2.85 -2.85zM1278.3 376.85l2.85 2.85l-2.85 2.85l-2.85 -2.85zM1284.1 376.85l2.85 2.85l-2.85 2.85l-2.85 -2.85zM1290.0 376.85l2.85 2.85l-2.85 2.85l-2.85 -2.85zM1295.9 376.85l2.85 2.85l-2.85 2.85l-2.85 -2.85zM1301.8 376.85l2.85 2.85l-2.85 2.85l-2.85 -2.85zM1307.7 376.85l2.85 2.85l-2.85 2.85l-2.85 -2.85zM1313.6 376.85l2.85 2.85l-2.85 2.85l-2.85 -2.85zM1319.5 376.85l2.85 2.85l-2.85 2.85l-2.85 -2.85zM1325.4 376.85l2.85 2.85l-2.85 2.85l-2.85 -2.85zM1331.3 376.85l2.85 2.85l-2.85 2.85l-2.85 -2.85zM1337.2 376.85l2.85 2.85l-2.85 2.85l-2.85 -2.85zM1343.1 376.85l2.85 2.85l-2.85 2.85l-2.85 -2.85zM1349.0 376.85l2.85 2.85l-2.85 2.85l-2.85 -2.85zM1354.9 376.85l2.85 2.85l-2.85 2.85l-2.85 -2.85zM1360.8 376.85l2.85 2.85l-2.85 2.85l-2.85 -2.85zM1366.7 376.85l2.85 2.85l-2.85 2.85l-2.85 -2.85zM1372.6 376.85l2.85 2.85l-2.85 2.85l-2.85 -2.85zM1378.5 376.85l2.85 2.85l-2.85 2.85l-2.85 -2.85zM1384.4 376.85l2.85 2.85l-2.85 2.85l-2.85 -2.85zM1390.3 376.85l2.85 2.85l-2.85 2.85l-2.85 -2.85zM1396.2 376.85l2.85 2.85l-2.85 2.85l-2.85 -2.85zM1402.1 376.85l2.85 2.85l-2.85 2.85l-2.85 -2.85zM1408.0 376.85l2.85 2.85l-2.85 2.85l-2.85 -2.85zM1413.9 376.85l2.85 2.85l-2.85 2.85l-2.85 -2.85zM1419.8 376.85l2.85 2.85l-2.85 2.85l-2.85 -2.85zM1425.7 376.85l2.85 2.85l-2.85 2.85l-2.85 -2.85zM1431.6 376.85l2.85 2.85l-2.85 2.85l-2.85 -2.85zM1437.5 376.85l2.85 2.85l-2.85 2.85l-2.85 -2.85zM1443.4 376.85l2.85 2.85l-2.85 2.85l-2.85 -2.85zM1449.3 376.85l2.85 2.85l-2.85 2.85l-2.85 -2.85zM1455.2 376.85l2.85 2.85l-2.85 2.85l-2.85 -2.85zM1461.1 376.85l2.85 2.85l-2.85 2.85l-2.85 -2.85zM1467.0 376.85l2.85 2.85l-2.85 2.85l-2.85 -2.85zM1472.9 376.85l2.85 2.85l-2.85 2.85l-2.85 -2.85zM1478.8 376.85l2.85 2.85l-2.85 2.85l-2.85 -2.85zM1484.7 376.85l2.85 2.85l-2.85 2.85l-2.85 -2.85zM1490.6 376.85l2.85 2.85l-2.85 2.85l-2.85 -2.85zM1496.4 376.85l2.85 2.85l-2.85 2.85l-2.85 -2.85zM1502.3 376.85l2.85 2.85l-2.85 2.85l-2.85 -2.85zM1508.2 376.85l2.85 2.85l-2.85 2.85l-2.85 -2.85zM1514.1 376.85l2.85 2.85l-2.85 2.85l-2.85 -2.85zM1520.0 376.85l2.85 2.85l-2.85 2.85l-2.85 -2.85zM1525.9 376.85l2.85 2.85l-2.85 2.85l-2.85 -2.85zM1531.8 376.85l2.85 2.85l-2.85 2.85l-2.85 -2.85zM1537.7 376.85l2.85 2.85l-2.85 2.85l-2.85 -2.85zM1543.6 376.85l2.85 2.85l-2.85 2.85l-2.85 -2.85zM1549.5 376.85l2.85 2.85l-2.85 2.85l-2.85 -2.85zM1555.4 376.85l2.85 2.85l-2.85 2.85l-2.85 -2.85zM1561.3 376.85l2.85 2.85l-2.85 2.85l-2.85 -2.85zM1567.2 376.85l2.85 2.85l-2.85 2.85l-2.85 -2.85zM1573.1 376.85l2.85 2.85l-2.85 2.85l-2.85 -2.85zM1579.0 376.85l2.85 2.85l-2.85 2.85l-2.85 -2.85zM1584.9 376.85l2.85 2.85l-2.85 2.85l-2.85 -2.85zM1590.8 376.85l2.85 2.85l-2.85 2.85l-2.85 -2.85zM1596.7 376.85l2.85 2.85l-2.85 2.85l-2.85 -2.85zM1602.6 376.85l2.85 2.85l-2.85 2.85l-2.85 -2.85zM1608.5 376.85l2.85 2.85l-2.85 2.85l-2.85 -2.85zM1614.4 376.85l2.85 2.85l-2.85 2.85l-2.85 -2.85zM1620.3 376.85l2.85 2.85l-2.85 2.85l-2.85 -2.85zM1626.2 376.85l2.85 2.85l-2.85 2.85l-2.85 -2.85zM1632.1 376.85l2.85 2.85l-2.85 2.85l-2.85 -2.85zM1638.0 376.85l2.85 2.85l-2.85 2.85l-2.85 -2.85zM1643.9 376.85l2.85 2.85l-2.85 2.85l-2.85 -2.85zM1649.8 376.85l2.85 2.85l-2.85 2.85l-2.85 -2.85zM1655.7 376.85l2.85 2.85l-2.85 2.85l-2.85 -2.85zM1661.6 376.85l2.85 2.85l-2.85 2.85l-2.85 -2.85zM1667.5 376.85l2.85 2.85l-2.85 2.85l-2.85 -2.85zM1673.4 376.85l2.85 2.85l-2.85 2.85l-2.85 -2.85zM1679.3 376.85l2.85 2.85l-2.85 2.85l-2.85 -2.85zM1685.2 376.85l2.85 2.85l-2.85 2.85l-2.85 -2.85zM1691.1 376.85l2.85 2.85l-2.85 2.85l-2.85 -2.85zM1697.0 376.85l2.85 2.85l-2.85 2.85l-2.85 -2.85zM1702.9 376.85l2.85 2.85l-2.85 2.85l-2.85 -2.85zM1708.7 376.85l2.85 2.85l-2.85 2.85l-2.85 -2.85zM1714.6 376.85l2.85 2.85l-2.85 2.85l-2.85 -2.85zM1720.5 376.85l2.85 2.85l-2.85 2.85l-2.85 -2.85zM1726.4 376.85l2.85 2.85l-2.85 2.85l-2.85 -2.85zM1732.3 376.85l2.85 2.85l-2.85 2.85l-2.85 -2.85zM1738.2 376.85l2.85 2.85l-2.85 2.85l-2.85 -2.85zM1744.1 376.85l2.85 2.85l-2.85 2.85l-2.85 -2.85zM1750.0 376.85l2.85 2.85l-2.85 2.85l-2.85 -2.85zM1755.9 376.85l2.85 2.85l-2.85 2.85l-2.85 -2.85zM1761.8 376.85l2.85 2.85l-2.85 2.85l-2.85 -2.85zM1767.7 376.85l2.85 2.85l-2.85 2.85l-2.85 -2.85zM1773.6 376.85l2.85 2.85l-2.85 2.85l-2.85 -2.85zM1779.5 376.85l2.85 2.85l-2.85 2.85l-2.85 -2.85z" fill="#33a02c"/>
<path d="M418 743H450" stroke="#1f78b4" stroke-width="2"/><circle cx="434" cy="743" r="3" fill="#1f78b4"/>
<path d="M781.500 743H813.500" stroke="#33a02c" stroke-width="2"/><path d="M797.500 740l3 3l-3 3l-3 -3z" fill="#33a02c"/>
<path d="M1076.500 743H1108.500" stroke="#e31a1c" stroke-width="2"/><rect x="1090" y="740.500" width="5" height="5" fill="#e31a1c"/>
</svg>

<div class="abs" style="left:68.9px;top:355.5px;font-size:22.8px;color:#666;-webkit-text-stroke:0.25px;"><span class="sx" id="t_y1" style="transform:scaleX(1.0000)">1</span></div>
<div class="abs" style="left:50.7px;top:481.5px;font-size:22.8px;color:#666;-webkit-text-stroke:0.25px;"><span class="sx" id="t_y05" style="transform:scaleX(0.9733)">0.5</span></div>
<div class="abs" style="left:68.5px;top:605.5px;font-size:22.8px;color:#666;-webkit-text-stroke:0.25px;"><span class="sx" id="t_y0" style="transform:scaleX(1.0545)">0</span></div>
<div class="abs" style="left:86.7px;top:649.4px;font-size:22.6px;color:#666;-webkit-text-stroke:0.25px;"><span class="sx" id="t_x0" style="transform:scaleX(0.9269)">3. Jul</span></div>
<div class="abs" style="left:303.3px;top:649.4px;font-size:22.6px;color:#666;-webkit-text-stroke:0.25px;"><span class="sx" id="t_x1" style="transform:scaleX(0.9619)">3am</span></div>
<div class="abs" style="left:515.5px;top:649.4px;font-size:22.6px;color:#666;-webkit-text-stroke:0.25px;"><span class="sx" id="t_x2" style="transform:scaleX(0.9643)">6am</span></div>
<div class="abs" style="left:728.0px;top:649.4px;font-size:22.6px;color:#666;-webkit-text-stroke:0.25px;"><span class="sx" id="t_x3" style="transform:scaleX(0.9619)">9am</span></div>
<div class="abs" style="left:934.7px;top:649.4px;font-size:22.6px;color:#666;-webkit-text-stroke:0.25px;"><span class="sx" id="t_x4" style="transform:scaleX(0.9870)">12pm</span></div>
<div class="abs" style="left:1153.0px;top:649.4px;font-size:22.6px;color:#666;-webkit-text-stroke:0.25px;"><span class="sx" id="t_x5" style="transform:scaleX(0.9667)">3pm</span></div>
<div class="abs" style="left:1364.7px;top:649.4px;font-size:22.6px;color:#666;-webkit-text-stroke:0.25px;"><span class="sx" id="t_x6" style="transform:scaleX(0.9833)">6pm</span></div>
<div class="abs" style="left:1578.1px;top:649.4px;font-size:22.6px;color:#666;-webkit-text-stroke:0.25px;"><span class="sx" id="t_x7" style="transform:scaleX(0.9524)">9pm</span></div>
<div class="abs" style="left:902.1px;top:685.1px;font-size:24.6px;color:#666;-webkit-text-stroke:0.3px;"><span class="sx" id="t_time" style="transform:scaleX(0.9302)">Time (UTC)</span></div>
<div class="abs" style="left:459.5px;top:730.1px;font-size:24.4px;font-weight:bold;color:#333;"><span class="sx" id="t_l1" style="transform:scaleX(0.9273)">Active Probing (# /24s Up)</span></div>
<div class="abs" style="left:822.0px;top:730.1px;font-size:24.4px;font-weight:bold;color:#333;"><span class="sx" id="t_l2" style="transform:scaleX(0.9338)">BGP (# Visible /24s)</span></div>
<div class="abs" style="left:1117.7px;top:730.1px;font-size:24.4px;font-weight:bold;color:#333;"><span class="sx" id="t_l3" style="transform:scaleX(0.9251)">Darknet (# Unique Source IPs)</span></div>
<div class="abs" style="left:30.4px;top:763.8px;font-size:26.4px;color:#b4bcc2;-webkit-text-stroke:0.3px;"><span class="sx" id="t_i1" style="transform:scaleX(0.9167)"># Series:</span></div>
<div class="abs" style="left:130.0px;top:767.2px;font-size:23.6px;color:#b4bcc2;font-style:italic;-webkit-text-stroke:0.3px;"><span class="sx" id="t_i2" style="transform:scaleX(0.9917)">3</span></div>
<div class="abs" style="left:149.1px;top:763.8px;font-size:26.4px;color:#b4bcc2;-webkit-text-stroke:0.3px;"><span class="sx" id="t_i3" style="transform:scaleX(0.9389)">| # Points:</span></div>
<div class="abs" style="left:265.9px;top:767.2px;font-size:23.6px;color:#b4bcc2;font-style:italic;-webkit-text-stroke:0.3px;"><span class="sx" id="t_i4" style="transform:scaleX(0.9404)">1872</span></div>
<div class="abs" style="left:321.1px;top:763.8px;font-size:26.4px;color:#b4bcc2;-webkit-text-stroke:0.3px;"><span class="sx" id="t_i5" style="transform:scaleX(0.9749)">| Data resolution:</span></div>
<div class="abs" style="left:520.7px;top:767.2px;font-size:23.6px;color:#b4bcc2;font-style:italic;-webkit-text-stroke:0.3px;"><span class="sx" id="t_i6" style="transform:scaleX(1.0102)">minute, 5 minutes, 10 minutes</span></div>
<svg class="abs" style="left:849px;top:763.500px" width="25" height="25" viewBox="0 0 30 30"><circle cx="15" cy="15" r="14.350" fill="#3498db"/><path d="M10.900 12.900C10.900 10.100 12.600 8.700 14.900 8.700C17.200 8.700 18.800 10.100 18.800 12.100C18.800 13.900 17.500 14.600 16.400 15.400C15.400 16.100 15 16.600 15 18.300" fill="none" stroke="#fff" stroke-width="4.600" stroke-linecap="butt" stroke-linejoin="round"/><rect x="11.900" y="20.200" width="6" height="5" rx="0.500" fill="#fff"/></svg>
<div class="abs" style="left:1288.4px;top:763.6px;font-size:26.2px;font-style:italic;color:#2c3e50;-webkit-text-stroke:0.35px;"><span class="sx" id="t_range" style="transform:scaleX(0.9390)">July 3, 2019 12:00am - July 4, 2019 12:00am</span></div>
</div></body></html>
